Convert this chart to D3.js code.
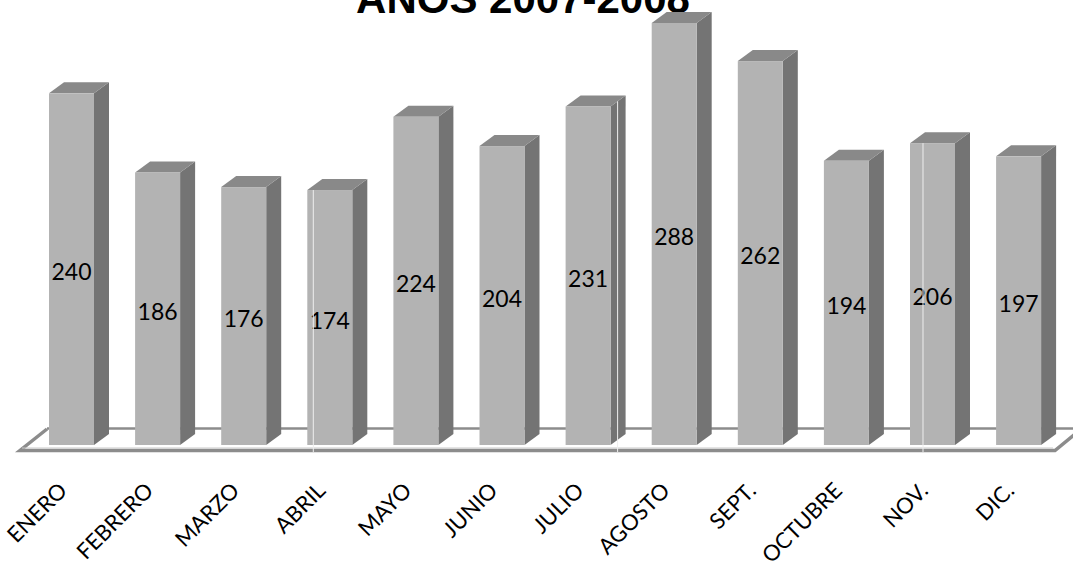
<!DOCTYPE html>
<html>
<head>
<meta charset="utf-8">
<script src="https://cdn.jsdelivr.net/npm/d3@7"></script>
<style>
  html, body { margin: 0; padding: 0; background: #fff; }
  svg { display: block; }
</style>
</head>
<body>
<svg id="chart" width="1073" height="563"></svg>
<script>
// Monthly totals
const months = ["ENERO", "FEBRERO", "MARZO", "ABRIL", "MAYO", "JUNIO",
                "JULIO", "AGOSTO", "SEPT.", "OCTUBRE", "NOV.", "DIC."];
const totals = [240, 186, 176, 174, 224, 204, 231, 288, 262, 194, 206, 197];
const title = "AÑOS 2007-2008";

const svg = d3.select("#chart");

// Plot frame
const floorY = 445;               // bottom of the bar fronts
const depthX = 15, depthY = -11;  // 3D extrusion offset
const step = 86.1, barW = 45, firstBar = 49;
const pad = 1 - barW / step;
const r0 = firstBar - (step - barW) / 2;

const x = d3.scaleBand()
  .domain(months)
  .range([r0, r0 + months.length * step])
  .paddingInner(pad)
  .paddingOuter(pad / 2);

const y = d3.scaleLinear().domain([0, 300]).range([floorY, floorY - 300 * 1.4653]);

// Title (runs off the top edge)
svg.append("text")
  .attr("x", 523).attr("y", 13)
  .attr("text-anchor", "middle")
  .attr("font-family", "Liberation Sans, Arial, sans-serif")
  .attr("font-weight", "bold")
  .attr("font-size", 42)
  .attr("fill", "#000")
  .text(title);

// Floor plate
const floor = svg.append("g").attr("fill", "none").attr("stroke-linejoin", "miter");
floor.append("path").attr("stroke", "#8c8c8c").attr("stroke-width", 2.5)
  .attr("d", "M47,428.5 L1075,428.5");
floor.append("path").attr("stroke", "#8c8c8c").attr("stroke-width", 3.5)
  .attr("d", "M47,429 L20,450.5 L1055,450.5 L1075,434");
floor.append("path").attr("stroke", "#c8c8c8").attr("stroke-width", 1)
  .attr("d", "M22,448 L1053,448");

// Bars
const data = months.map((m, i) => ({ m, v: totals[i] }));
const bars = svg.append("g").selectAll("g").data(data).join("g");

bars.append("path") // side
  .attr("fill", "#747474")
  .attr("d", d => {
    const x1 = x(d.m) + x.bandwidth(), t = y(d.v);
    return `M${x1},${t} L${x1 + depthX},${t + depthY} L${x1 + depthX},${floorY + depthY} L${x1},${floorY} Z`;
  });

bars.append("path") // top
  .attr("fill", "#898989")
  .attr("d", d => {
    const x0 = x(d.m), x1 = x0 + x.bandwidth(), t = y(d.v);
    return `M${x0},${t} L${x0 + depthX},${t + depthY} L${x1 + depthX},${t + depthY} L${x1},${t} Z`;
  });

bars.append("rect") // front
  .attr("fill", "#b3b3b3")
  .attr("x", d => x(d.m))
  .attr("y", d => y(d.v))
  .attr("width", x.bandwidth())
  .attr("height", d => floorY - y(d.v));

// Thin light seams through a few of the columns
const seams = [
  { m: "ABRIL", dx: 6 },
  { m: "JULIO", dx: 52 },
  { m: "NOV.", dx: 13 }
];
svg.append("g").selectAll("line").data(seams).join("line")
  .attr("x1", s => x(s.m) + s.dx).attr("x2", s => x(s.m) + s.dx)
  .attr("y1", s => y(totals[months.indexOf(s.m)]) + (s.dx > barW ? depthY * (s.dx - barW) / depthX : 0))
  .attr("y2", 452)
  .attr("stroke", "#eeeeee")
  .attr("stroke-width", 1);

// Value labels in the middle of each bar
bars.append("text")
  .attr("x", d => x(d.m) + x.bandwidth() / 2)
  .attr("y", d => (y(d.v) + floorY) / 2 + 3)
  .attr("dy", "0.35em")
  .attr("text-anchor", "middle")
  .attr("font-family", "Lato, sans-serif")
  .attr("font-size", 23)
  .attr("fill", "#000")
  .text(d => d.v);

// Category labels, slanted
svg.append("g").selectAll("text").data(months).join("text")
  .attr("transform", m => `translate(${x(m) + x.bandwidth() / 2 - 3},492) rotate(-45)`)
  .attr("text-anchor", "end")
  .attr("font-family", "Lato, sans-serif")
  .attr("font-size", 22)
  .attr("fill", "#000")
  .text(m => m);
</script>
</body>
</html>
